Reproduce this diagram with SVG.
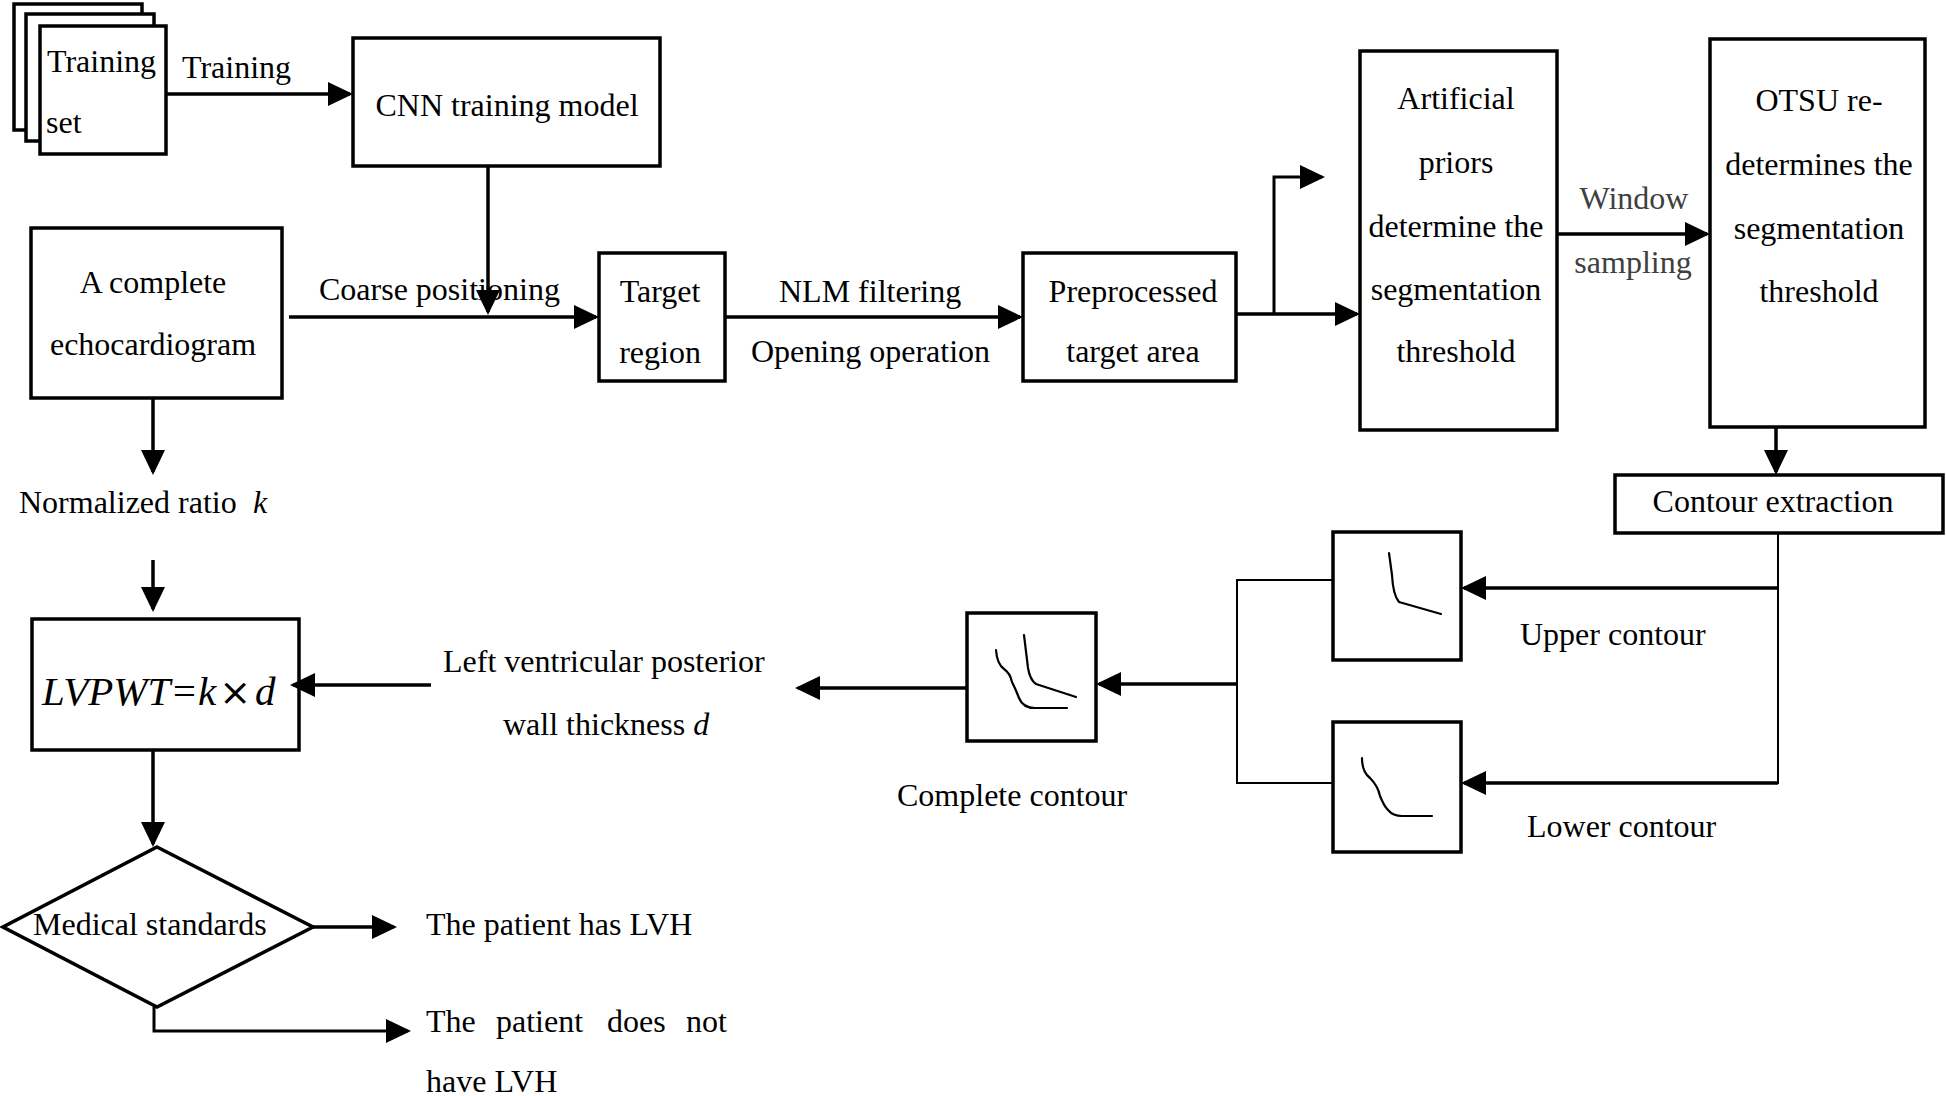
<svg xmlns="http://www.w3.org/2000/svg" width="1946" height="1096" viewBox="0 0 1946 1096">
<defs>
<marker id="ah" markerUnits="userSpaceOnUse" markerWidth="25" markerHeight="24" refX="22" refY="12" orient="auto">
<path d="M0,0 L25,12 L0,24 Z" fill="#000"/>
</marker>
<style>
.box{fill:#fff;stroke:#000;stroke-width:3.5}
.t{font-family:"Liberation Serif","Times New Roman",serif;font-size:32px;fill:#000}
.m{text-anchor:middle}
.i{font-style:italic}
.c{fill:none;stroke:#000;stroke-width:3}
.a{fill:none;stroke:#000;stroke-width:3.5;marker-end:url(#ah)}
.thin{fill:none;stroke:#000;stroke-width:2}
.curve{fill:none;stroke:#000;stroke-width:2.2;stroke-linejoin:round;stroke-linecap:round}
</style>
</defs>
<rect width="1946" height="1096" fill="#fff"/>

<g id="training-set">
<rect class="box" x="14" y="4" width="128" height="126"/>
<rect class="box" x="26" y="14" width="128" height="127"/>
<rect class="box" x="40" y="26" width="126" height="128"/>
<text class="t" x="47" y="72">Training</text>
<text class="t" x="46" y="133">set</text>
</g>

<g id="cnn">
<rect class="box" x="353" y="38" width="307" height="128"/>
<text class="t m" x="507" y="116">CNN training model</text>
</g>

<g id="echo">
<rect class="box" x="31" y="228" width="251" height="170"/>
<text class="t m" x="153" y="293">A complete</text>
<text class="t m" x="153" y="355">echocardiogram</text>
</g>

<g id="target">
<rect class="box" x="599" y="253" width="126" height="128"/>
<text class="t m" x="660" y="302">Target</text>
<text class="t m" x="660" y="363">region</text>
</g>

<g id="preprocessed">
<rect class="box" x="1023" y="253" width="213" height="128"/>
<text class="t m" x="1133" y="302">Preprocessed</text>
<text class="t m" x="1133" y="362">target area</text>
</g>

<g id="artificial">
<rect class="box" x="1360" y="51" width="197" height="379"/>
<text class="t m" x="1456" y="109">Artificial</text>
<text class="t m" x="1456" y="173">priors</text>
<text class="t m" x="1456" y="237">determine the</text>
<text class="t m" x="1456" y="300">segmentation</text>
<text class="t m" x="1456" y="362">threshold</text>
</g>

<g id="otsu">
<rect class="box" x="1710" y="39" width="215" height="388"/>
<text class="t m" x="1819" y="111">OTSU re-</text>
<text class="t m" x="1819" y="175">determines the</text>
<text class="t m" x="1819" y="239">segmentation</text>
<text class="t m" x="1819" y="302">threshold</text>
</g>

<g id="contour-extraction">
<rect class="box" x="1615" y="475" width="328" height="58"/>
<text class="t m" x="1773" y="512">Contour extraction</text>
</g>

<g id="upper-contour">
<rect class="box" x="1333" y="532" width="128" height="128"/>
<path class="curve" d="M1389,553 L1392,575 Q1393,595 1399,602 L1441,614"/>
<text class="t" x="1520" y="645">Upper contour</text>
</g>

<g id="lower-contour">
<rect class="box" x="1333" y="722" width="128" height="130"/>
<path class="curve" d="M1362,758 Q1362,772 1370,778 Q1378,786 1380,796 Q1384,806 1388,810 Q1393,816 1402,816 L1432,816"/>
<text class="t" x="1527" y="837">Lower contour</text>
</g>

<g id="complete-contour">
<rect class="box" x="967" y="613" width="129" height="128"/>
<path class="curve" d="M1024,635 L1028,668 Q1030,680 1036,684 L1076,697"/>
<path class="curve" d="M996,650 Q997,664 1004,669 Q1010,673 1012,682 Q1016,690 1019,698 Q1023,708 1035,708 L1067,708"/>
<text class="t" x="897" y="806">Complete contour</text>
</g>

<g id="lvpwt">
<rect class="box" x="32" y="619" width="267" height="131"/>
<text class="t" x="42" y="705" style="font-size:41px"><tspan class="i">LVPWT=k</tspan><tspan dx="3" style="font-family:'DejaVu Sans',sans-serif;font-size:38px">×</tspan><tspan class="i" dx="4">d</tspan></text>
</g>

<g id="thickness">
<text class="t" x="443" y="672">Left ventricular posterior</text>
<text class="t" x="503" y="735">wall thickness <tspan class="i">d</tspan></text>
</g>

<g id="ratio">
<text class="t" x="19" y="513">Normalized ratio <tspan class="i" x="253">k</tspan></text>
</g>

<g id="medical-standards">
<path class="box" d="M157,847 L313,927 L157,1007 L3,927 Z"/>
<text class="t" x="33" y="935">Medical standards</text>
</g>

<g id="has-lvh">
<text class="t" x="426" y="935">The patient has LVH</text>
</g>

<g id="no-lvh">
<text class="t" y="1032"><tspan x="426">The</tspan><tspan x="496">patient</tspan><tspan x="607">does</tspan><tspan x="686">not</tspan></text>
<text class="t" x="426" y="1092">have LVH</text>
</g>

<g id="connector-labels">
<text class="t" x="182" y="78">Training</text>
<text class="t" x="319" y="300">Coarse positioning</text>
<text class="t" x="779" y="302">NLM filtering</text>
<text class="t" x="751" y="362">Opening operation</text>
<text class="t m" x="1634" y="209" style="fill:#404040">Window</text>
<text class="t m" x="1633" y="273" style="fill:#404040">sampling</text>
</g>

<g id="connectors">
<line class="a" x1="166" y1="94" x2="350" y2="94"/>
<line class="a" x1="488" y1="166" x2="488" y2="312"/>
<line class="a" x1="289" y1="317" x2="596" y2="317"/>
<line class="a" x1="725" y1="317" x2="1020" y2="317"/>
<line class="a" x1="1236" y1="314" x2="1357" y2="314"/>
<path class="a" d="M1274,314 V177 H1322" style="stroke-width:3"/>
<line class="a" x1="1557" y1="234" x2="1707" y2="234"/>
<line class="a" x1="1776" y1="427" x2="1776" y2="472"/>
<line class="thin" x1="1778" y1="533" x2="1778" y2="784"/>
<line class="a" x1="1778" y1="588" x2="1464" y2="588"/>
<line class="a" x1="1778" y1="783" x2="1464" y2="783"/>
<path class="thin" d="M1333,580 H1237 V783 H1333"/>
<line class="a" x1="1237" y1="684" x2="1099" y2="684"/>
<line class="a" x1="967" y1="688" x2="798" y2="688"/>
<line class="a" x1="431" y1="685" x2="293" y2="685"/>
<line class="a" x1="153" y1="398" x2="153" y2="472"/>
<line class="a" x1="153" y1="560" x2="153" y2="609"/>
<line class="a" x1="153" y1="750" x2="153" y2="844"/>
<line class="a" x1="313" y1="927" x2="394" y2="927"/>
<path class="a" d="M154,1007 V1031 H408" style="stroke-width:3"/>
</g>
</svg>
